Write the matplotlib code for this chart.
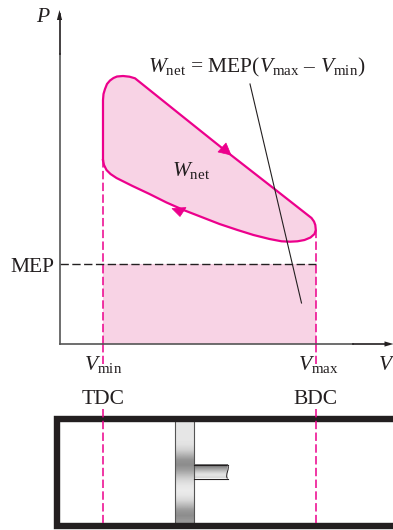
import numpy as np
import matplotlib
matplotlib.use('Agg')
import matplotlib.pyplot as plt
from matplotlib.path import Path
from matplotlib.patches import PathPatch, Rectangle, Polygon

plt.rcParams['font.family'] = ['Liberation Serif', 'DejaVu Serif']
plt.rcParams['mathtext.fontset'] = 'custom'
plt.rcParams['mathtext.rm'] = 'Liberation Serif'
plt.rcParams['mathtext.it'] = 'Liberation Serif:italic'

v_top = [43.5, 43.5, 44, 45.5, 47.5, 50.5, 54, 57.5, 63.5, 70, 75.5]
p_top = [184, 244, 250, 255, 260, 263.5, 266, 267.5, 268, 267.3, 265.7]
v_expansion = [75.5, 120, 165, 215, 252, 254.5, 255.8, 256.3]
p_expansion = [265.7, 230, 194, 155, 126, 122.5, 119, 114]
v_bottom = [256.3, 255, 251, 245, 238, 230.5, 222, 210, 194, 178, 160, 142, 124, 107, 90, 73, 57, 51, 47, 44.5, 43.5]
p_bottom = [114, 110, 106.5, 104, 102.7, 102.3, 102.7, 105, 109, 114, 120, 127, 134, 141.5, 150, 158, 166, 170, 174, 179, 184]

v_min = 43.5
v_max = 256
mep = 80

pink = '#ec008c'
fill = '#f8d3e5'
ink = '#231f20'

fig = plt.figure(figsize=(3.93, 5.30), dpi=100)
ax = fig.add_axes([0, 0, 1, 1])

v_cycle = v_top + v_expansion[1:] + v_bottom[1:]
p_cycle = p_top + p_expansion[1:] + p_bottom[1:]
ax.fill(v_cycle, p_cycle, color=fill, lw=0, zorder=1)
ax.add_patch(Rectangle((v_min, 0), v_max - v_min, mep, fc=fill, ec='none', zorder=1))
ax.plot(v_cycle, p_cycle, color=pink, lw=1.6, zorder=3, solid_joinstyle='round')

# direction arrows on the cycle
ax.add_patch(Polygon([(158.5, 192), (166.5, 201), (171.5, 189)], fc=pink, ec=pink, lw=0.5, zorder=4))
ax.add_patch(Polygon([(112.5, 135.5), (126.5, 136.5), (120.5, 127.5)], fc=pink, ec=pink, lw=0.5, zorder=4))

# dashed lines
dash = (0, (5.5, 2.2))
ax.plot([v_min, v_min], [0, 184], color=pink, lw=1.1, ls=dash, zorder=2)
ax.plot([v_max, v_max], [0, 114], color=pink, lw=1.1, ls=dash, zorder=2)
ax.plot([v_min, v_min], [0, -20], color=pink, lw=1.1, ls=dash, zorder=2)
ax.plot([v_max, v_max], [0, -20], color=pink, lw=1.1, ls=dash, zorder=2)
ax.plot([v_min, v_min], [-65, -179], color=pink, lw=1.1, ls=dash, zorder=6)
ax.plot([v_max, v_max], [-65, -179], color=pink, lw=1.1, ls=dash, zorder=6)
ax.plot([0, v_max], [mep, mep], color=ink, lw=1.0, ls=(0, (6, 2.5)), zorder=4)

# axes
ax.plot([0, 0], [0, 290], color='#555555', lw=1.2, zorder=5)
ax.plot([0, 0], [290, 330], color=ink, lw=1.2, zorder=5)
ax.plot([0, 293], [0, 0], color='#555555', lw=1.2, zorder=5)
ax.plot([293, 325], [0, 0], color=ink, lw=1.2, zorder=5)
ax.add_patch(Polygon([(-2.6, 324), (2.6, 324), (0, 334)], fc=ink, ec='none', zorder=5))
ax.add_patch(Polygon([(325, -2.6), (325, 2.6), (334, 0)], fc=ink, ec='none', zorder=5))

# leader
ax.plot([190.5, 242], [260, 41], color=ink, lw=0.8, zorder=5)

# text
ts = 15.5
ax.text(-16, 327, '$P$', fontsize=ts, ha='center', va='center', color=ink)
ax.text(88, 272, r'$W_{\mathrm{net}}$ = MEP($V_{\mathrm{max}}$ – $V_{\mathrm{min}}$)',
        fontsize=ts, ha='left', va='baseline', color=ink)
ax.text(113, 168, r'$W_{\mathrm{net}}$', fontsize=ts, ha='left', va='baseline', color=ink)
ax.text(-5, 72, 'MEP', fontsize=ts, ha='right', va='baseline', color=ink)
ax.text(24, -26, r'$V_{\mathrm{min}}$', fontsize=ts, ha='left', va='baseline', color=ink)
ax.text(238.5, -26, r'$V_{\mathrm{max}}$', fontsize=ts, ha='left', va='baseline', color=ink)
ax.text(319, -26, '$V$', fontsize=ts, ha='left', va='baseline', color=ink)
ax.text(v_min, -60, 'TDC', fontsize=ts, ha='center', va='baseline', color=ink)
ax.text(v_max, -60, 'BDC', fontsize=ts, ha='center', va='baseline', color=ink)

# cylinder
ax.plot([340, -2.5, -2.5, 340], [-75, -75, -181.5, -181.5], color=ink, lw=4.6,
        solid_joinstyle='miter', zorder=5)

# piston and rod shading, darkest at the middle and lower ring
piston_grey = np.array([0.90, 0.90, 0.90, 0.90, 0.88, 0.82, 0.70, 0.58, 0.55, 0.62, 0.74, 0.84, 0.90,
                        0.92, 0.90, 0.84, 0.72, 0.60, 0.55, 0.60])
rod_grey = np.array([0.45, 0.55, 0.65, 0.75, 0.85, 0.90, 0.85])
ax.imshow(piston_grey[:, None], extent=(115.5, 134.5, -179, -78), cmap='gray', vmin=0, vmax=1,
          aspect='auto', interpolation='bilinear', zorder=3)
ax.imshow(rod_grey[:, None], extent=(134.5, 168, -134.5, -121), cmap='gray', vmin=0, vmax=1,
          aspect='auto', interpolation='bilinear', zorder=3)
ax.plot([115.5, 115.5], [-78, -179], color='#555555', lw=0.8, zorder=4)
ax.plot([134.5, 134.5], [-78, -179], color='#555555', lw=0.8, zorder=4)
ax.plot([134.5, 168], [-121, -121], color=ink, lw=0.8, zorder=4)
ax.plot([134.5, 168], [-134.5, -134.5], color=ink, lw=0.8, zorder=4)
ax.add_patch(PathPatch(Path([(168, -121), (171, -124), (165, -131), (168, -134.5)],
                            [Path.MOVETO, Path.CURVE4, Path.CURVE4, Path.CURVE4]),
                       fc='white', ec=ink, lw=0.7, zorder=4))

ax.set_xlim(-59.5, 333.5)
ax.set_ylim(-186, 344)
ax.axis('off')

fig.savefig('out.png', dpi=100)
